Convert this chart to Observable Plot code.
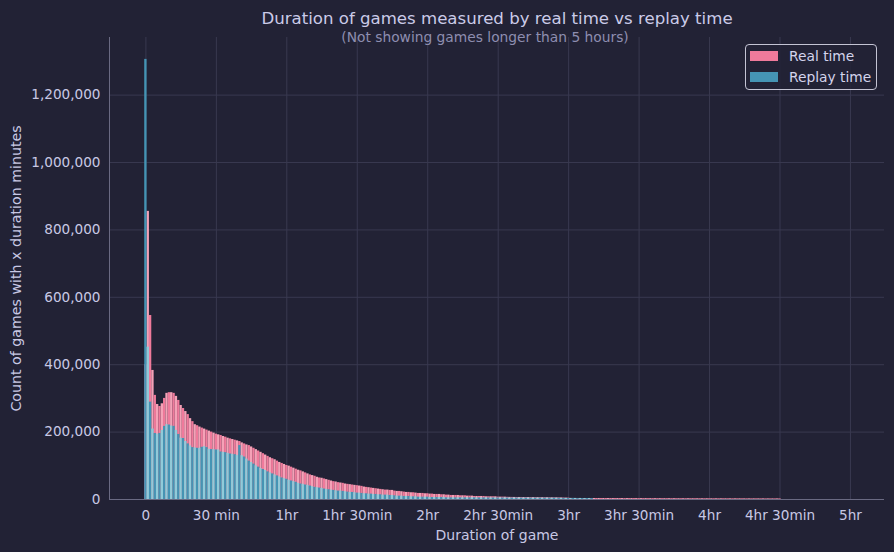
<!DOCTYPE html>
<html><head><meta charset="utf-8">
<script src="https://cdn.jsdelivr.net/npm/d3@7"></script>
<script src="https://cdn.jsdelivr.net/npm/@observablehq/plot@0.6"></script>
<style>
html,body{margin:0;padding:0;background:#222235;}
#wrap{position:relative;width:894px;height:552px;font-family:"DejaVu Sans",sans-serif;overflow:hidden;}
#wrap svg{position:absolute;left:0;top:0;}
.legend{position:absolute;left:745px;top:44px;width:132px;height:46px;border:1px solid #c4c4d4;border-radius:4px;background:rgba(34,34,53,0.85);color:#d4d4ec;font-size:13.8px;box-sizing:border-box;}
.row{position:absolute;left:4px;height:16px;line-height:16px;white-space:nowrap;}
.sw{display:inline-block;width:28px;height:10px;vertical-align:middle;margin-right:11px;position:relative;top:-1px;}
</style>
</head><body>
<div id="wrap"></div>
<script>
// Chart text
const title = "Duration of games measured by real time vs replay time";
const subtitle = "(Not showing games longer than 5 hours)";
const xLabel = "Duration of game";
const yLabel = "Count of games with x duration minutes";
const seriesNames = ["Real time", "Replay time"];

// x ticks (minutes) and labels
const xTicks = [0, 30, 60, 90, 120, 150, 180, 210, 240, 270, 300];
const xTickLabels = ["0", "30 min", "1hr", "1hr 30min", "2hr", "2hr 30min", "3hr", "3hr 30min", "4hr", "4hr 30min", "5hr"];
const yTicks = [0, 200000, 400000, 600000, 800000, 1000000, 1200000];

// Counts in thousands, index = duration in minutes
const realTimeK = [
 400,
 855,546,383,309,282,276,284,300,315,317,
 317,315,306,294,279,270,261,252,240,231,
 222,219,215,212,209,206,203,200,197,194,
 192,190,187,185,182,180,178,176,174,172,
 168,165,162,160,156,152,148,144,140,136,
 132,128,124,121,118,114,110,107,104,101,
 99,96,93,90,87,85,82,79,76,73,
 71,69,66,64,63,61,59,57,55,53,
 52,50,49,48,46,45,44,43,42,41,
 40,39,37,36,35,34,33,32,31,30,
 29,28,28,27,27,25,24,24,23,22,
 21,21,20,20,19,18,18,18,17,17,
 16,16,15,15,15,14,14,13,13,12,
 12,12,12,11,11,11,10,10,10,9,
 9,9,9,9,8,8,8,8,8,7,
 7,7,7,6.5,6.3,6.2,6.1,6,6,6,
 5.9,5.8,5.8,5.7,5.6,5.6,5.5,5.4,5.4,5.3,
 5.2,5.1,5,5,4.9,4.8,4.6,4.4,4.2,4.0,
 3.2,3.2,3.1,3.1,3.1,3.0,3.0,3.0,3.0,3.0,
 3.0,3.0,3.0,2.9,2.9,2.9,2.9,2.9,2.8,2.8,
 2.8,2.8,2.8,2.7,2.7,2.7,2.7,2.7,2.6,2.6,
 2.6,2.6,2.6,2.5,2.5,2.5,2.5,2.5,2.5,2.4,
 2.4,2.4,2.4,2.4,2.4,2.3,2.3,2.3,2.3,2.3,
 2.3,2.3,2.2,2.2,2.2,2.2,2.2,2.2,2.2,2.1,
 2.1,2.1,2.1,2.1,2.1,2.1,2.0,2.0,2.0,2.0,
 2.0,2.0,2.0,2.0,1.9,1.9,1.9,1.9,1.9,1.9,
 1.9,1.9,1.9,1.8,1.8,1.8,1.8,1.8,1.8,1.8
];
const replayTimeK = [
 1306,
 452,289,209,196,194,196,205,217,222,221,
 218,217,205,193,182,181,172,165,159,154,
 153,152,152,155,157,154,149,148,148,147,
 147,141,140,139,137,135,134,133,131,160,
 130,126,120,114,110,105,100,96,92,89,
 86,82,79,76,73,70,67,64,62,60,
 57,55,53,51,48,46,45,43,42,40,
 38,36,35,34,33,31,30,29,28,27,
 26,25,25,24,23,22,21,21,20,19,
 19,18,17,17,16,16,15,15,14,14,
 13,13,13,12,12,11,10,10,10,9,
 9,9,8,8,8,7,7,7,7,7,
 6,6,6,6,6,6,6,5,5,5,
 5,5,5,5,5,5,5,5,5,5,
 4.8,4.8,4.7,4.7,4.7,4.6,4.6,4.6,4.5,4.5,
 4.5,4.5,4.4,4.4,4.4,4.4,4.3,4.3,4.3,4.3,
 4.2,4.2,4.2,4.2,4.1,4.1,4.1,4.1,4.0,4.0,
 4.0,4.0,3.9,3.9,3.8,3.7,3.5,3.3,3.2,3.1,
 3.1,3.1,3.1,3.0,3.0,3.0,3.0,3.0,3.0,3.0
];

const xDomain = [-15.5, 314.5];
const yDomain = [0, 1371000];

const realRows = realTimeK.map((v, m) => ({m, v: v * 1000}));
const replayRows = replayTimeK.map((v, m) => ({m, v: v * 1000}));

const pink = "#ef7a9b", pinkLight = "#f4a2b7";
const blue = "#4594b4", blueLight = "#90cbd9";
const grid = "#393950", spine = "#6a6a82", textCol = "#c8c8e4";

const chart = Plot.plot({
  width: 894, height: 552,
  marginLeft: 109, marginRight: 10, marginTop: 37, marginBottom: 53,
  style: {background: "transparent", color: textCol, fontFamily: "DejaVu Sans, sans-serif", fontSize: "13.6px"},
  x: {domain: xDomain},
  y: {domain: yDomain},
  color: {type: "identity"},
  marks: [
    Plot.gridX(xTicks, {stroke: grid, strokeOpacity: 1}),
    Plot.gridY(yTicks, {stroke: grid, strokeOpacity: 1}),
    Plot.rectY(realRows, {x1: d => d.m - 0.5, x2: d => d.m + 0.5, y: "v", fill: (d, i) => i % 2 ? pinkLight : pink}),
    Plot.rectY(replayRows, {x1: d => d.m - 0.5, x2: d => d.m + 0.5, y: "v", fill: (d, i) => i % 2 ? blueLight : blue}),
    Plot.ruleY([0], {stroke: spine}),
    Plot.ruleX([xDomain[0]], {stroke: spine}),
    Plot.axisX(xTicks, {tickSize: 0, tickPadding: 10.5, tickFormat: d => xTickLabels[xTicks.indexOf(d)], label: null, fontSize: 13.6, fill: textCol}),
    Plot.axisY(yTicks, {tickSize: 0, tickPadding: 9, tickFormat: d3.format(","), label: null, fontSize: 13.6, fill: textCol}),
    Plot.text([title], {text: d => d, frameAnchor: "top", lineAnchor: "middle", dy: -19, fontSize: 16.6, fill: "#cbcbe8"}),
    Plot.text([subtitle], {text: d => d, frameAnchor: "top", lineAnchor: "middle", dy: 0, dx: -12, fontSize: 13.8, fill: "#8e8eb0"}),
    Plot.text([xLabel], {text: d => d, frameAnchor: "bottom", lineAnchor: "middle", dy: 36, fontSize: 14, fill: textCol}),
    Plot.text([yLabel], {text: d => d, frameAnchor: "left", textAnchor: "middle", lineAnchor: "middle", dx: -93, rotate: -90, fontSize: 14.2, fill: textCol})
  ]
});

const wrap = document.getElementById("wrap");
wrap.appendChild(chart);

const legend = document.createElement("div");
legend.className = "legend";
[[seriesNames[0], pink], [seriesNames[1], blue]].forEach(([name, col], i) => {
  const row = document.createElement("div");
  row.className = "row";
  row.style.top = (3 + i * 21) + "px";
  const sw = document.createElement("span");
  sw.className = "sw";
  sw.style.background = col;
  row.appendChild(sw);
  row.appendChild(document.createTextNode(name));
  legend.appendChild(row);
});
wrap.appendChild(legend);
</script>
</body></html>
